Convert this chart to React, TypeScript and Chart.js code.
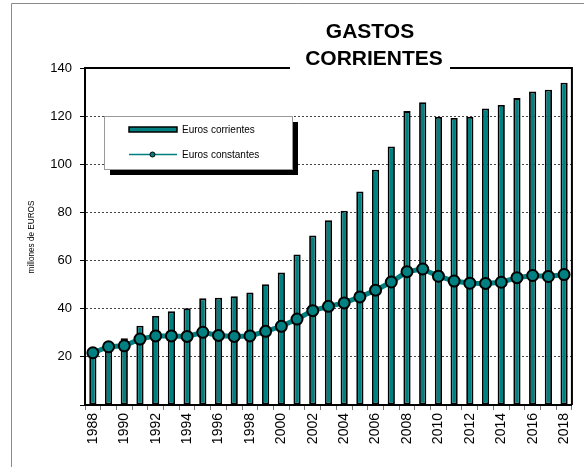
import React, { useEffect, useRef } from "react";
import { Chart, registerables } from "chart.js";

Chart.register(...registerables);

const years: string[] = [
  "1988", "1989", "1990", "1991", "1992", "1993", "1994", "1995", "1996", "1997",
  "1998", "1999", "2000", "2001", "2002", "2003", "2004", "2005", "2006", "2007",
  "2008", "2009", "2010", "2011", "2012", "2013", "2014", "2015", "2016", "2017", "2018",
];

const eurosCorrientes: number[] = [
  20.5, 22.5, 27.7, 32.9, 37.0, 38.9, 40.2, 44.3, 44.6, 45.2,
  46.7, 50.2, 55.0, 62.5, 70.4, 76.8, 80.7, 88.7, 97.7, 107.4,
  122.1, 125.8, 119.7, 119.2, 119.7, 123.2, 124.6, 127.5, 130.2, 131.0, 133.9,
];

const eurosConstantes: number[] = [
  21.7, 24.2, 24.6, 27.4, 28.7, 28.7, 28.5, 30.2, 28.9, 28.5,
  28.7, 30.6, 32.7, 35.7, 39.2, 41.0, 42.4, 44.9, 47.7, 51.1,
  55.4, 56.5, 53.5, 51.5, 50.6, 50.5, 51.0, 52.9, 53.8, 53.4, 54.2,
];

const seriesLabels: string[] = ["Euros corrientes", "Euros constantes"];
const titleLines: string[] = ["GASTOS", "CORRIENTES"];
const yAxisTitle = "millones de EUROS";

const TEAL = "#008080";
const FONT = '"Liberation Sans", Arial, Helvetica, sans-serif';

const decorPlugin = {
  id: "decor",
  beforeDraw(chart: any) {
    const ctx = chart.ctx as CanvasRenderingContext2D;
    ctx.save();
    ctx.fillStyle = "#fff";
    ctx.fillRect(0, 0, chart.width, chart.height);
    ctx.strokeStyle = "#8a8a8a";
    ctx.lineWidth = 1;
    ctx.beginPath();
    ctx.moveTo(11.5, chart.height);
    ctx.lineTo(11.5, 3.5);
    ctx.lineTo(chart.width, 3.5);
    ctx.stroke();
    ctx.restore();
  },
  afterDraw(chart: any) {
    const ctx = chart.ctx as CanvasRenderingContext2D;
    const { left, top, right, bottom } = chart.chartArea;
    ctx.save();
    // top & right plot border
    ctx.strokeStyle = "#000";
    ctx.lineWidth = 2;
    ctx.beginPath();
    ctx.moveTo(left, top);
    ctx.lineTo(right, top);
    ctx.lineTo(right, bottom);
    ctx.stroke();

    // title with white backing
    ctx.fillStyle = "#fff";
    ctx.fillRect(290, 14, 160, 58);
    ctx.fillStyle = "#000";
    ctx.font = `bold 21px ${FONT}`;
    ctx.textAlign = "center";
    ctx.textBaseline = "alphabetic";
    ctx.fillText(titleLines[0], 370, 38);
    ctx.fillText(titleLines[1], 374, 65);

    // legend
    const lx = 104, ly = 116, lw = 188, lh = 53;
    ctx.fillStyle = "#000";
    ctx.fillRect(lx + 6, ly + 6, lw, lh);
    ctx.fillStyle = "#fff";
    ctx.fillRect(lx, ly, lw, lh);
    ctx.strokeStyle = "#999";
    ctx.lineWidth = 1;
    ctx.strokeRect(lx + 0.5, ly + 0.5, lw, lh);

    const ds = chart.data.datasets;
    ctx.font = `10px ${FONT}`;
    ctx.textAlign = "left";
    ctx.textBaseline = "middle";
    // bar item
    ctx.fillStyle = TEAL;
    ctx.fillRect(129, 127, 48, 5);
    ctx.strokeStyle = "#000";
    ctx.lineWidth = 1.5;
    ctx.strokeRect(129, 127, 48, 5);
    ctx.fillStyle = "#000";
    ctx.fillText(ds[1].label, 182, 130);
    // line item
    ctx.strokeStyle = TEAL;
    ctx.lineWidth = 1.5;
    ctx.beginPath();
    ctx.moveTo(129, 154.5);
    ctx.lineTo(177, 154.5);
    ctx.stroke();
    ctx.beginPath();
    ctx.arc(152.5, 154.5, 2.5, 0, Math.PI * 2);
    ctx.fillStyle = TEAL;
    ctx.fill();
    ctx.strokeStyle = "#000";
    ctx.lineWidth = 1;
    ctx.stroke();
    ctx.fillStyle = "#000";
    ctx.fillText(ds[0].label, 182, 155);

    // y axis title
    ctx.translate(32, 237);
    ctx.rotate(-Math.PI / 2);
    ctx.font = `8.2px ${FONT}`;
    ctx.textAlign = "center";
    ctx.textBaseline = "middle";
    ctx.fillText(yAxisTitle, 0, 0);
    ctx.restore();
  },
};

export default function App() {
  const canvasRef = useRef<HTMLCanvasElement | null>(null);

  useEffect(() => {
    if (!canvasRef.current) return;
    const chart = new Chart(canvasRef.current, {
      type: "bar",
      data: {
        labels: years,
        datasets: [
          {
            type: "line",
            label: seriesLabels[1],
            data: eurosConstantes,
            borderColor: TEAL,
            borderWidth: 5,
            backgroundColor: TEAL,
            pointRadius: 5.5,
            pointBorderWidth: 2,
            pointBackgroundColor: TEAL,
            pointBorderColor: "#000",
            tension: 0,
            order: 0,
          } as any,
          {
            type: "bar",
            label: seriesLabels[0],
            data: eurosCorrientes,
            backgroundColor: TEAL,
            borderColor: "#000",
            borderWidth: 1.8,
            borderSkipped: false,
            categoryPercentage: 1,
            barPercentage: 0.46,
            order: 1,
          } as any,
        ],
      },
      options: {
        responsive: false,
        animation: false,
        devicePixelRatio: window.devicePixelRatio || 1,
        layout: { padding: { left: 0, right: 8, top: 68, bottom: 12 } },
        plugins: {
          legend: { display: false },
          title: { display: false },
          tooltip: { enabled: false },
        },
        scales: {
          x: {
            offset: true,
            grid: {
              display: true,
              drawOnChartArea: false,
              offset: true,
              tickLength: 5,
              tickColor: "#777",
              lineWidth: 1,
            },
            border: { display: true, color: "#000", width: 2 },
            ticks: {
              autoSkip: false,
              maxRotation: 90,
              minRotation: 90,
              padding: 3,
              color: "#000",
              font: { family: FONT, size: 14 },
              callback: (_v: any, i: number) => (i % 2 === 0 ? years[i] : ""),
            },
            afterFit: (scale: any) => {
              scale.height = 50;
            },
          },
          y: {
            min: 0,
            max: 140,
            grid: {
              color: "#444",
              lineWidth: 1,
              tickLength: 5,
              tickColor: "#000",
              tickBorderDash: [],
            } as any,
            border: { display: true, color: "#000", width: 2, dash: [2, 2] },
            ticks: {
              stepSize: 20,
              padding: 8,
              color: "#000",
              font: { family: FONT, size: 13 },
              callback: (v: any) => (v === 0 ? "" : String(v)),
            },
            afterFit: (scale: any) => {
              scale.width = 85;
            },
          },
        },
      },
      plugins: [decorPlugin],
    });
    return () => chart.destroy();
  }, []);

  return (
    <div style={{ position: "fixed", left: 0, top: 0, width: 584, height: 467, background: "#fff" }}>
      <canvas ref={canvasRef} width={584} height={467} style={{ width: 584, height: 467, display: "block" }} />
    </div>
  );
}
